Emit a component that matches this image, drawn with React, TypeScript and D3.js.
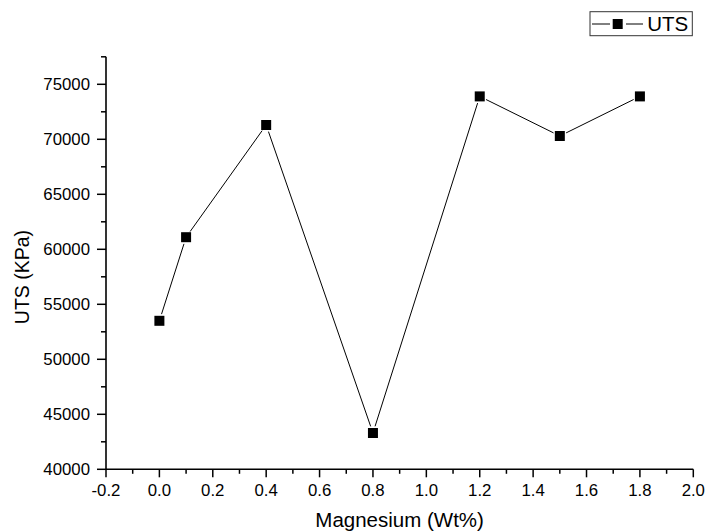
import React from "react";
import * as d3 from "d3";

const magnesium = [0.0, 0.1, 0.4, 0.8, 1.2, 1.5, 1.8];
const uts = [53500, 61100, 71300, 43300, 73900, 70300, 73900];
const xTickValues = [-0.2, 0.0, 0.2, 0.4, 0.6, 0.8, 1.0, 1.2, 1.4, 1.6, 1.8, 2.0];
const yTickValues = [40000, 45000, 50000, 55000, 60000, 65000, 70000, 75000];
const seriesName = "UTS";
const xTitle = "Magnesium (Wt%)";
const yTitle = "UTS (KPa)";

const W = 706;
const H = 532;
const FONT = "Arial, 'Liberation Sans', sans-serif";

export default function App() {
  const x = d3.scaleLinear().domain([-0.2, 2.0]).range([106, 693.3]);
  const y = d3.scaleLinear().domain([40000, 77500]).range([469.3, 56.8]);
  const xMinor = d3.range(-0.2, 2.0001, 0.1).filter(
    (v) => !xTickValues.some((t) => Math.abs(t - v) < 1e-6)
  );
  const yMinor = d3.range(40000, 77501, 2500).filter((v) => !yTickValues.includes(v));
  const pts = magnesium.map((m, i) => [x(m), y(uts[i])] as [number, number]);
  const gap = 7;
  const segs = pts.slice(1).map((p, i) => {
    const a = pts[i];
    const dx = p[0] - a[0];
    const dy = p[1] - a[1];
    const L = Math.hypot(dx, dy);
    const ux = dx / L;
    const uy = dy / L;
    return [a[0] + ux * gap, a[1] + uy * gap, p[0] - ux * gap, p[1] - uy * gap];
  });
  const x0 = x.range()[0];
  const y0 = y.range()[0];
  const ms = 10;
  const fmt = (t: number) => d3.format(".1f")(t).replace("\u2212", "-");
  return (
    <svg
      width={W}
      height={H}
      style={{ position: "absolute", left: 0, top: 0, background: "#fff" }}
      fontFamily={FONT}
    >
      <rect width={W} height={H} fill="#fff" />
      {segs.map((s, i) => (
        <line key={i} x1={s[0]} y1={s[1]} x2={s[2]} y2={s[3]} stroke="#000" strokeWidth={1} />
      ))}
      {pts.map((p, i) => (
        <rect key={i} x={p[0] - ms / 2} y={p[1] - ms / 2} width={ms} height={ms} fill="#000" />
      ))}
      <line x1={x0} y1={y0} x2={x(2.0)} y2={y0} stroke="#000" strokeWidth={1.6} />
      <line x1={x0} y1={y0 + 0.8} x2={x0} y2={y(77500)} stroke="#000" strokeWidth={1.6} />
      {xTickValues.map((t) => (
        <g key={t}>
          <line x1={x(t)} x2={x(t)} y1={y0} y2={y0 + 8} stroke="#000" strokeWidth={1.5} />
          <text x={x(t)} y={496} textAnchor="middle" fontSize={16.8} fill="#000">
            {fmt(t)}
          </text>
        </g>
      ))}
      {xMinor.map((t) => (
        <line key={t} x1={x(t)} x2={x(t)} y1={y0} y2={y0 + 4.5} stroke="#000" strokeWidth={1.5} />
      ))}
      {yTickValues.map((t) => (
        <g key={t}>
          <line x1={x0} x2={x0 - 9} y1={y(t)} y2={y(t)} stroke="#000" strokeWidth={1.5} />
          <text x={90} y={y(t)} dy="0.35em" textAnchor="end" fontSize={16.8} fill="#000">
            {t}
          </text>
        </g>
      ))}
      {yMinor.map((t) => (
        <line key={t} x1={x0} x2={x0 - 5} y1={y(t)} y2={y(t)} stroke="#000" strokeWidth={1.5} />
      ))}
      <text x={(x0 + x(2.0)) / 2} y={527} textAnchor="middle" fontSize={20.5} fill="#000">
        {xTitle}
      </text>
      <text
        transform={`translate(29, ${(y0 + y(77500)) / 2 + 14}) rotate(-90)`}
        textAnchor="middle"
        fontSize={19.5}
        fill="#000"
      >
        {yTitle}
      </text>
      <rect x={590} y={11.7} width={102.3} height={24} fill="#fff" stroke="#333" strokeWidth={1} />
      <line x1={592} x2={610} y1={24} y2={24} stroke="#000" strokeWidth={1} />
      <line x1={626} x2={643} y1={24} y2={24} stroke="#000" strokeWidth={1} />
      <rect x={612.7} y={19} width={ms} height={ms} fill="#000" />
      <text x={647.3} y={24} dy="0.36em" fontSize={20.5} fill="#000">
        {seriesName}
      </text>
    </svg>
  );
}
